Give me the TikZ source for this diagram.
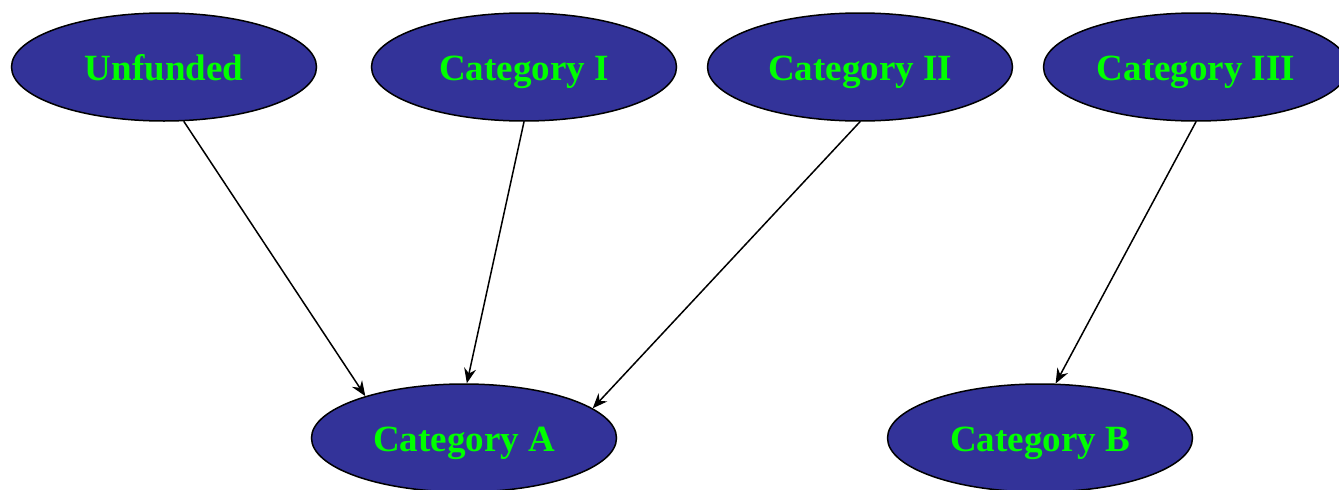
\documentclass[tikz,border=0pt]{standalone}
\usepackage{fontspec}
\setmainfont{Liberation Serif}
\usetikzlibrary{shapes.geometric,arrows.meta}
\definecolor{catblue}{HTML}{333399}
\definecolor{catgreen}{HTML}{00FF00}
\begin{document}
\begin{tikzpicture}[x=1pt,y=-1pt,
  cat/.style={ellipse, draw=black, line width=1.5pt, fill=catblue, text=catgreen,
    font=\fontsize{37}{40}\selectfont\bfseries, text height=34pt, text depth=8pt,
    minimum width=305pt, minimum height=108pt, inner sep=0pt},
  link/.style={-{Stealth[length=15pt,width=12pt,inset=5pt]}, line width=1.5pt}]
\useasboundingbox (0,0) rectangle (1339,490);
\node[cat] (unf) at (164,67) {Unfunded};
\node[cat] (c1) at (524,67) {Category I};
\node[cat] (c2) at (860,67) {Category II};
\node[cat] (c3) at (1196,67) {Category III};
\node[cat] (ca) at (464,438) {Category A};
\node[cat] (cb) at (1040,438) {Category B};
\draw[link] (unf.-70) -- (ca.157);
\draw[link] (c1.south) -- (ca.87);
\draw[link] (c2.south) -- (ca.13);
\draw[link] (c3.south) -- (cb.74);
\end{tikzpicture}
\end{document}
